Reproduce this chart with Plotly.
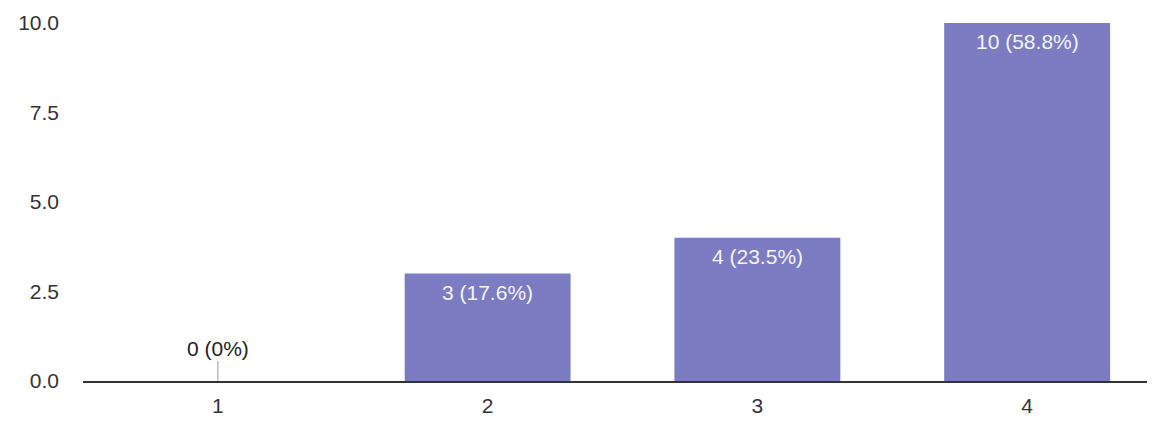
import plotly.graph_objects as go

# chart data
categories = ["1", "2", "3", "4"]
counts = [0, 3, 4, 10]
y_ticks = [0, 2.5, 5, 7.5, 10]

BAR_COLOR = "#7b7cc2"
FONT = "Liberation Sans, Arial, sans-serif"

total = sum(counts)


def label(v):
    pct = v / total * 100
    if pct == 0:
        return f"{v} (0%)"
    return f"{v} ({pct:.1f}%)"


labels = [label(v) for v in counts]

fig = go.Figure()

fig.add_trace(go.Bar(
    x=categories,
    y=counts,
    marker=dict(color=BAR_COLOR, line=dict(width=0)),
    width=0.615,
    hoverinfo="skip",
))

# value labels: inside the bar top, or above a leader line for zero bars
# (annotation x on a category axis is the category index)
for i, (v, t) in enumerate(zip(counts, labels)):
    if v == 0:
        fig.add_annotation(
            x=i, y=v, text=t,
            showarrow=True, arrowhead=0, arrowwidth=1, arrowcolor="#999999",
            ax=0, ay=-33,
            font=dict(size=21, color="#222222", family=FONT),
        )
    else:
        fig.add_annotation(
            x=i, y=v, text=t, showarrow=False,
            yanchor="top", yshift=-5,
            font=dict(size=21, color="#f4f4fb", family=FONT),
        )

# the page body adds an 8px offset, margins are trimmed to compensate
fig.update_layout(
    width=1155,
    height=423,
    margin=dict(l=75, r=8, t=15, b=50),
    paper_bgcolor="white",
    plot_bgcolor="white",
    showlegend=False,
    font=dict(family=FONT, size=21, color="#333333"),
)

fig.update_xaxes(
    type="category",
    showline=True, linecolor="#333333", linewidth=1.5,
    showgrid=False, ticks="", range=[-0.5, 3.474],
    ticklabelstandoff=5,
    tickfont=dict(size=21, color="#333333"),
    automargin=False,
)
fig.update_yaxes(
    range=[0, 10], tickvals=y_ticks,
    ticktext=[f"{t:.1f}" for t in y_ticks],
    showgrid=False, zeroline=False, showline=False,
    ticks="", ticklabelstandoff=23,
    tickfont=dict(size=21, color="#333333"),
    automargin=False,
)

fig.write_html("out.html")
